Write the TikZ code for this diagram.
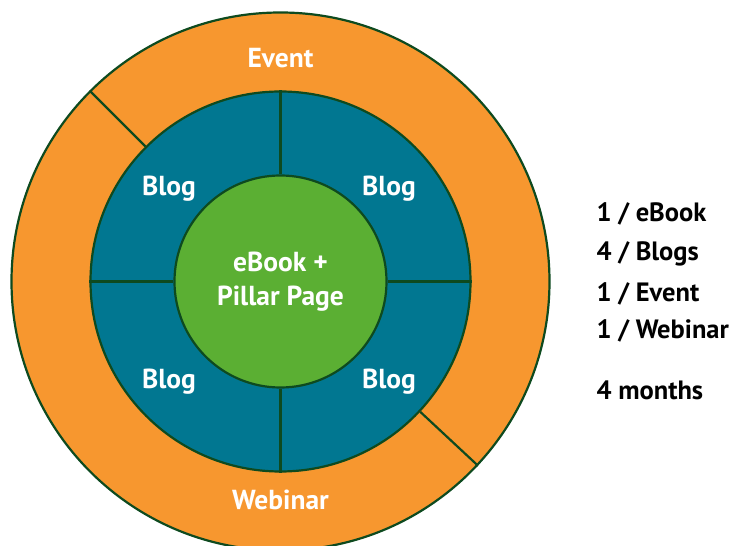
\documentclass[tikz,border=0pt]{standalone}
\usepackage{fontspec}
\setmainfont{PT Sans}
\usetikzlibrary{positioning}
\definecolor{ringorange}{HTML}{F7972F}
\definecolor{ringblue}{HTML}{017791}
\definecolor{coregreen}{HTML}{5BAF33}
\definecolor{rimgreen}{HTML}{0E4A1F}

\begin{document}
\begin{tikzpicture}[
x=1pt, y=1pt,
edge/.style={draw=rimgreen, line width=2.2pt},
ring/.style={circle, edge, inner sep=0pt},
tag/.style={text=white, font=\bfseries\fontsize{27.5}{34}\selectfont},
count/.style={anchor=west, font=\bfseries\fontsize{26.5}{30}\selectfont},
]
\useasboundingbox (-280.5,-264.5) rectangle (450.5,281.5);
% rings
\node[ring, fill=ringorange, minimum size=538pt] (outer) at (0,0) {};
\node[ring, fill=ringblue, minimum size=380pt] (middle) at (0,0) {};
\node[ring, fill=coregreen, minimum size=212pt, tag, align=center] (core) at (0,0) {eBook +\\Pillar Page};
% dividers
\draw[edge] (outer.135) -- (middle.135);
\draw[edge] (outer.-43) -- (middle.-43);
\draw[edge] (middle.north) -- (core.north);
\draw[edge] (middle.south) -- (core.south);
\draw[edge] (middle.west) -- (core.west);
\draw[edge] (middle.east) -- (core.east);
% ring labels
\node[tag] (event) at (0,223.5) {Event};
\node[tag] (webinar) at (0,-218.5) {Webinar};
\node[tag] (blog1) at (-111.5,93) {Blog};
\node[tag] (blog2) at (108.5,93) {Blog};
\node[tag] (blog3) at (-111.5,-100) {Blog};
\node[tag] (blog4) at (108.5,-100) {Blog};
% totals
\node[count] (ebooks) at (312.5,67.5) {1 / eBook};
\node[count] (blogs) at (312.5,27.5) {4 / Blogs};
\node[count] (events) at (312.5,-12.5) {1 / Event};
\node[count] (webinars) at (312.5,-49.5) {1 / Webinar};
\node[count] (months) at (312.5,-108.5) {4 months};
\end{tikzpicture}
\end{document}
